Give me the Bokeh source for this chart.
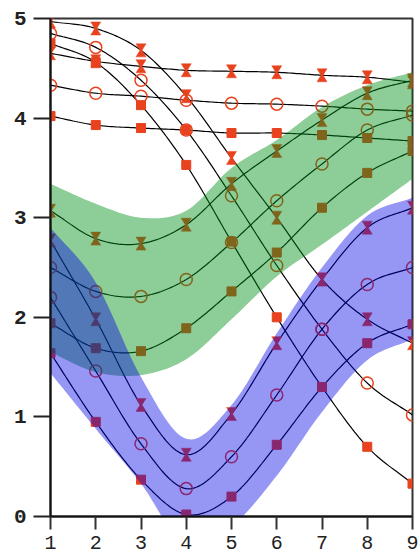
import numpy as np
from bokeh.plotting import figure
from bokeh.models import Range1d, FixedTicker
from bokeh.embed import file_html
from bokeh.resources import INLINE

# ---- data ----
x = [1, 2, 3, 4, 5, 6, 7, 8, 9]

# flat family
flat_hour = [4.65, 4.57, 4.52, 4.48, 4.47, 4.46, 4.43, 4.41, 4.36]
flat_circ = [4.33, 4.25, 4.22, 4.18, 4.15, 4.14, 4.12, 4.09, 4.07]
flat_sq = [4.02, 3.93, 3.90, 3.88, 3.85, 3.85, 3.83, 3.80, 3.77]

# steep family
steep_hour = [4.97, 4.90, 4.68, 4.22, 3.60, 3.00, 2.38, 1.98, 1.74]
steep_circ = [4.85, 4.71, 4.38, 3.88, 3.22, 2.52, 1.88, 1.34, 1.02]
steep_sq = [4.75, 4.56, 4.13, 3.53, 2.76, 2.00, 1.30, 0.70, 0.33]

# rising family (green band)
rise_hour = [3.07, 2.79, 2.74, 2.93, 3.34, 3.67, 3.98, 4.25, 4.38]
rise_circ = [2.50, 2.26, 2.21, 2.38, 2.75, 3.17, 3.54, 3.88, 4.03]
rise_sq = [1.94, 1.69, 1.66, 1.89, 2.26, 2.65, 3.10, 3.45, 3.67]

# valley family (blue band)
valley_hour = [2.77, 1.98, 1.12, 0.62, 1.03, 1.74, 2.38, 2.90, 3.10]
valley_circ = [2.20, 1.46, 0.73, 0.28, 0.60, 1.22, 1.88, 2.33, 2.50]
valley_sq = [1.64, 0.95, 0.37, 0.02, 0.20, 0.72, 1.30, 1.74, 1.93]

# bands
green_hi = [3.34, 3.14, 3.00, 3.07, 3.50, 3.78, 4.11, 4.33, 4.46]
green_lo = [1.65, 1.45, 1.42, 1.58, 1.98, 2.41, 2.73, 3.06, 3.39]
blue_hi = [2.90, 2.35, 1.40, 0.78, 1.12, 1.84, 2.50, 3.02, 3.20]
blue_lo = [1.44, 0.88, 0.33, -0.30, -0.10, 0.41, 1.05, 1.57, 1.78]

y_ticks = [0, 1, 2, 3, 4, 5]
x_ticks = [1, 2, 3, 4, 5, 6, 7, 8, 9]

RED = "#E8421E"
FRAME_W, FRAME_H = 362, 498
XMIN, XMAX, YMIN, YMAX = 1, 9, 0, 5


def smooth(xs, ys, n=18):
    """Cubic Hermite (Catmull-Rom style) rendering path through the points."""
    xs = np.asarray(xs, float)
    ys = np.asarray(ys, float)
    m = np.gradient(ys, xs)
    ox, oy = [], []
    for i in range(len(xs) - 1):
        h = xs[i + 1] - xs[i]
        t = np.linspace(0, 1, n, endpoint=(i == len(xs) - 2))
        h00 = 2 * t**3 - 3 * t**2 + 1
        h10 = t**3 - 2 * t**2 + t
        h01 = -2 * t**3 + 3 * t**2
        h11 = t**3 - t**2
        ox.extend(xs[i] + t * h)
        oy.extend(h00 * ys[i] + h10 * h * m[i] + h01 * ys[i + 1] + h11 * h * m[i + 1])
    return ox, oy


p = figure(width=420, height=556, output_backend="svg", toolbar_location=None,
           x_range=Range1d(XMIN, XMAX), y_range=Range1d(YMIN, YMAX),
           min_border_left=50, min_border_right=8, min_border_top=18,
           min_border_bottom=40)
p.grid.visible = False
p.background_fill_color = "white"
p.border_fill_color = "white"
p.outline_line_color = "#333333"
p.outline_line_width = 2

# lines
for ys in [flat_hour, flat_circ, flat_sq, steep_hour, steep_circ, steep_sq,
           rise_hour, rise_circ, rise_sq, valley_hour, valley_circ, valley_sq]:
    sx, sy = smooth(x, ys)
    p.line(sx, sy, line_color="black", line_width=1.2)

# hourglass markers (size in screen px converted to data units)
hw = 5.0 * (XMAX - XMIN) / FRAME_W
hh = 6.5 * (YMAX - YMIN) / FRAME_H
hx, hy = [], []
for ys in [flat_hour, steep_hour, rise_hour, valley_hour]:
    for xi, yi in zip(x, ys):
        hx.append([xi - hw, xi + hw, xi + 0.2 * hw, xi + hw, xi - hw, xi - 0.2 * hw])
        hy.append([yi + hh, yi + hh, yi, yi - hh, yi - hh, yi])
p.patches(hx, hy, fill_color=RED, line_color=RED, line_width=0.5)

# circle markers (hollow)
for ys in [flat_circ, steep_circ, rise_circ, valley_circ]:
    p.scatter(x, ys, marker="circle", size=12, fill_color=None,
              line_color=RED, line_width=1.5)

# square markers
for ys in [flat_sq, steep_sq, rise_sq, valley_sq]:
    p.scatter(x, ys, marker="square", size=9, fill_color=RED, line_color=RED)

# bands drawn on top, translucent
gx, glo = smooth(x, green_lo)
_, ghi = smooth(x, green_hi)
p.varea(x=gx, y1=glo, y2=ghi, fill_color="#00901A", fill_alpha=0.45)
bx, blo = smooth(x, blue_lo)
_, bhi = smooth(x, blue_hi)
p.varea(x=bx, y1=blo, y2=bhi, fill_color="#0000E6", fill_alpha=0.41)

# axes
p.yaxis.ticker = FixedTicker(ticks=y_ticks)
p.xaxis.ticker = FixedTicker(ticks=x_ticks)
p.yaxis.minor_tick_line_color = None
p.xaxis.minor_tick_line_color = None
p.yaxis.major_tick_out = 17
p.yaxis.major_tick_in = 0
p.xaxis.major_tick_out = 13
p.xaxis.major_tick_in = 0
p.yaxis.major_tick_line_width = 2
p.xaxis.major_tick_line_width = 2
p.yaxis.major_tick_line_color = "#222222"
p.xaxis.major_tick_line_color = "#333333"
p.yaxis.axis_line_width = 2
p.xaxis.axis_line_width = 2
p.yaxis.axis_line_color = "#111111"
p.xaxis.axis_line_color = "#111111"
p.yaxis.major_label_text_font = "Liberation Mono"
p.yaxis.major_label_text_font_style = "bold"
p.yaxis.major_label_text_font_size = "21px"
p.yaxis.major_label_text_color = "#222222"
p.yaxis.major_label_standoff = 7
p.xaxis.major_label_text_font = "Liberation Mono"
p.xaxis.major_label_text_font_size = "20px"
p.xaxis.major_label_text_color = "#222222"
p.xaxis.major_label_standoff = 6

open("out.html", "w").write(file_html(p, INLINE))
